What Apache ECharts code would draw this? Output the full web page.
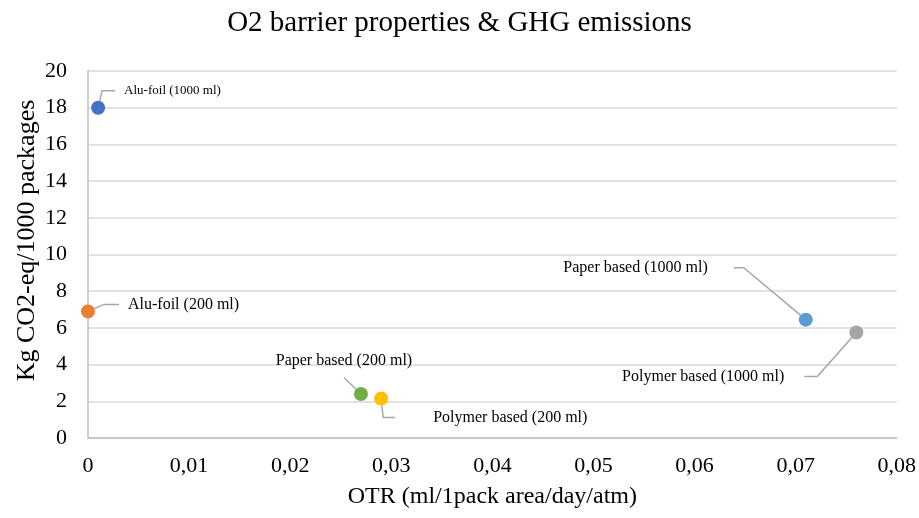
<!DOCTYPE html>
<html>
<head>
<meta charset="utf-8">
<script src="https://cdn.jsdelivr.net/npm/echarts@6/dist/echarts.min.js"></script>
<style>
html,body{margin:0;padding:0;background:#fff;}
#chart{width:919px;height:518px;}
</style>
</head>
<body>
<div id="chart"></div>
<script>
// ---- data ----
var names = ['Alu-foil (1000 ml)', 'Alu-foil (200 ml)', 'Paper based (200 ml)', 'Polymer based (200 ml)', 'Paper based (1000 ml)', 'Polymer based (1000 ml)'];
var otr = [0.001, 0.0, 0.027, 0.029, 0.071, 0.076];
var ghg = [18.0, 6.9, 2.4, 2.15, 6.45, 5.75];
var xTicks = [0, 0.01, 0.02, 0.03, 0.04, 0.05, 0.06, 0.07, 0.08];
var yTicks = [0, 2, 4, 6, 8, 10, 12, 14, 16, 18, 20];

// ---- styles (not data) ----
var colors = ['#4472C4', '#ED7D31', '#70AD47', '#FFC000', '#5B9BD5', '#A5A5A5'];
var labelCfg = [
  {align: 'left',   fontSize: 13, padding: [0, 0, 0, 9],  len2: 13, dx: 17,  dy: -17},
  {align: 'left',   fontSize: 16, padding: [0, 0, 0, 9],  len2: 15, dx: 31,  dy: -7},
  {align: 'center', fontSize: 16, padding: [0, 0, 17, 0], len2: 0,  dx: -17, dy: -33},
  {align: 'left',   fontSize: 16, padding: [0, 0, 0, 38], len2: 12, dx: 14,  dy: 19},
  {align: 'right',  fontSize: 16, padding: [0, 26, 0, 0], len2: 10, dx: -72, dy: -52},
  {align: 'right',  fontSize: 16, padding: [0, 20, 0, 0], len2: 13, dx: -52, dy: 44}
];
var serif = '"Liberation Serif", "Times New Roman", serif';

var series = names.map(function (n, i) {
  var c = labelCfg[i];
  return {
    type: 'scatter',
    name: n,
    data: [[otr[i], ghg[i]]],
    symbolSize: 14,
    itemStyle: {color: colors[i], opacity: 1},
    label: {
      show: true,
      position: 'inside',
      formatter: n,
      color: '#000',
      fontFamily: serif,
      fontSize: c.fontSize,
      align: c.align,
      verticalAlign: 'middle',
      padding: c.padding,
      backgroundColor: 'rgba(255,255,255,0)'
    },
    labelLine: {
      show: true,
      length2: c.len2,
      lineStyle: {color: '#A6A6A6', width: 1.5}
    },
    labelLayout: {dx: c.dx, dy: c.dy, align: c.align, verticalAlign: 'middle'},
    emphasis: {disabled: true}
  };
});

var chart = echarts.init(document.getElementById('chart'), null, {renderer: 'canvas'});
chart.setOption({
  animation: false,
  backgroundColor: '#fff',
  title: {
    text: 'O2 barrier properties & GHG emissions',
    left: 'center',
    top: 4,
    textStyle: {fontFamily: serif, fontSize: 29, fontWeight: 'normal', color: '#000'}
  },
  grid: {left: 88, right: 22, top: 71, bottom: 80, containLabel: false},
  xAxis: {
    type: 'value',
    min: xTicks[0],
    max: xTicks[xTicks.length - 1],
    interval: xTicks[1] - xTicks[0],
    name: 'OTR (ml/1pack area/day/atm)',
    nameLocation: 'middle',
    nameGap: 47,
    nameTextStyle: {fontFamily: serif, fontSize: 24, color: '#000'},
    axisLine: {show: true, onZero: false, lineStyle: {color: '#BFBFBF', width: 1.5}},
    axisTick: {show: false},
    splitLine: {show: false},
    axisLabel: {
      margin: 17,
      fontFamily: serif, fontSize: 22, color: '#000',
      formatter: function (v) {
        var r = Math.round(v * 100) / 100;
        return r === 0 ? '0' : r.toFixed(2).replace('.', ',');
      }
    }
  },
  yAxis: {
    type: 'value',
    min: yTicks[0],
    max: yTicks[yTicks.length - 1],
    interval: yTicks[1] - yTicks[0],
    name: 'Kg CO2-eq/1000 packages',
    nameLocation: 'middle',
    nameGap: 48,
    nameMoveOverlap: false,
    nameTextStyle: {fontFamily: serif, fontSize: 26, color: '#000', padding: [0, 0, 0, 28]},
    axisLine: {show: true, onZero: false, lineStyle: {color: '#BFBFBF', width: 1.5}},
    axisTick: {show: false},
    splitLine: {show: true, lineStyle: {color: '#D9D9D9', width: 1.5}},
    axisLabel: {margin: 21, fontFamily: serif, fontSize: 22, color: '#000'}
  },
  series: series
});
</script>
</body>
</html>
